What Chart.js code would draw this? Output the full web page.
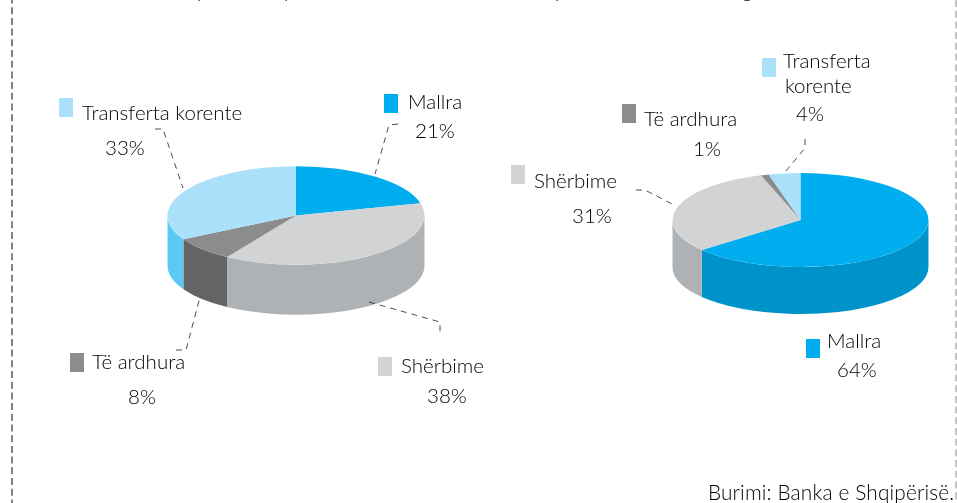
<!DOCTYPE html>
<html>
<head>
<meta charset="utf-8">
<title>Pie charts</title>
<script src="https://cdn.jsdelivr.net/npm/chart.js@4"></script>
<style>
  html, body { margin: 0; padding: 0; background: #fff; overflow: hidden; }
  canvas { position: absolute; left: 0; top: 0; }
</style>
</head>
<body>
<canvas id="pieLeft" width="957" height="503"></canvas>
<canvas id="pieRight" width="957" height="503"></canvas>
<script>
const categories = ["Mallra", "Shërbime", "Të ardhura", "Transferta korente"];
const valuesLeft = [21, 38, 8, 33];
const valuesRight = [64, 31, 1, 4];
const topColors = ["#00aeef", "#d1d3d4", "#8a8c8e", "#abe0fb"];
const sideColors = ["#0093c9", "#afb2b4", "#636466", "#5bc8f5"];
const sourceText = "Burimi: Banka e Shqipërisë.";

const FONT = '300 20.5px Lato, "Open Sans", sans-serif';
const SOURCE_FONT = '300 20.8px Lato, "Open Sans", sans-serif';
const INK = "#000";

// position des libellés : [carré x, y], [lignes du nom], x et ligne de base du pourcentage
const labelsLeft = [
  { sq: [384, 94], name: [["Mallra", 408, 109]], pct: [415, 138] },
  { sq: [378, 357], name: [["Shërbime", 401, 373]], pct: [427, 403] },
  { sq: [70, 353], name: [["Të ardhura", 92, 369]], pct: [128, 404] },
  { sq: [59, 98], name: [["Transferta korente", 82, 120]], pct: [105, 155] },
];
const labelsRight = [
  { sq: [806, 339], name: [["Mallra", 827, 348]], pct: [837, 377] },
  { sq: [511, 165], name: [["Shërbime", 534, 188]], pct: [572, 223] },
  { sq: [622, 104], name: [["Të ardhura", 644, 126]], pct: [693, 156] },
  { sq: [762, 58], name: [["Transferta", 783, 68], ["korente", 785, 93]], pct: [796, 121] },
];
const leadersLeft = [
  [[398, 124], [389, 125], [375, 174]],
  [[369, 302], [440, 322], [440, 335]],
  [[176, 350], [186, 350], [200, 297]],
  [[155, 129], [163, 129], [183, 188]],
];
const leadersRight = [
  [[805, 139], [805, 148], [786, 171]],
  [[636, 190], [645, 190], [676, 206]],
];
// jambages du titre coupé en haut de l'image
const cutTitle = [["p", 197], ["p", 284], ["p", 555], ["g", 742]];

// Plugin : écrase le camembert en ellipse et dessine la tranche du cylindre
const pie3d = {
  id: "pie3d",
  beforeDatasetsDraw(chart, args, opts) {
    const ctx = chart.ctx;
    const arcs = chart.getDatasetMeta(0).data;
    arcs.forEach((arc, i) => {
      const { x, y, startAngle, endAngle, outerRadius } = arc.getProps(["x", "y", "startAngle", "endAngle", "outerRadius"]);
      const ry = outerRadius * opts.squash;
      // seule la moitié basse de la tranche est visible
      [0, Math.PI * 2].forEach((turn) => {
        const a0 = Math.max(startAngle, turn);
        const a1 = Math.min(endAngle, turn + Math.PI);
        if (a1 <= a0) return;
        ctx.beginPath();
        ctx.ellipse(x, y, outerRadius, ry, 0, a0, a1);
        ctx.ellipse(x, y + opts.depth, outerRadius, ry, 0, a1, a0, true);
        ctx.closePath();
        ctx.fillStyle = sideColors[i];
        ctx.fill();
      });
    });
    const { x, y } = arcs[0].getProps(["x", "y"]);
    ctx.save();
    ctx.translate(x, y);
    ctx.scale(1, opts.squash);
    ctx.translate(-x, -y);
  },
  afterDatasetsDraw(chart) {
    chart.ctx.restore();
  },
  afterDraw(chart, args, opts) {
    const ctx = chart.ctx;
    ctx.save();
    ctx.font = FONT;
    ctx.textBaseline = "alphabetic";
    ctx.textAlign = "left";
    opts.labels.forEach((label, i) => {
      ctx.fillStyle = topColors[i];
      ctx.fillRect(label.sq[0], label.sq[1], 14, 19);
      ctx.fillStyle = INK;
      label.name.forEach(([text, x, y]) => ctx.fillText(text, x, y));
      ctx.fillText(chart.data.datasets[0].data[i] + "%", label.pct[0], label.pct[1]);
    });
    ctx.strokeStyle = "#231f20";
    ctx.lineWidth = 0.8;
    ctx.setLineDash([6, 5]);
    opts.leaders.forEach((pts) => {
      ctx.beginPath();
      pts.forEach(([x, y], k) => (k ? ctx.lineTo(x, y) : ctx.moveTo(x, y)));
      ctx.stroke();
    });
    if (opts.frame) {
      // cadre pointillé, source et bas du titre
      ctx.strokeStyle = "#808285";
      ctx.lineWidth = 2;
      ctx.setLineDash([7, 3.7]);
      ctx.lineDashOffset = 3.5;
      ctx.beginPath();
      ctx.moveTo(12, 0);
      ctx.lineTo(12, 503);
      ctx.stroke();
      ctx.strokeStyle = "#c4c6c8";
      ctx.lineDashOffset = 0;
      ctx.beginPath();
      ctx.moveTo(956, 0);
      ctx.lineTo(956, 503);
      ctx.stroke();
      ctx.fillStyle = INK;
      cutTitle.forEach(([text, x]) => ctx.fillText(text, x, -2));
      ctx.font = SOURCE_FONT;
      ctx.letterSpacing = "0.15px";
      ctx.fillText(sourceText, 708, 500);
    }
    ctx.restore();
  },
};

function makePie(canvasId, values, box, squash, depth, labels, leaders, frame) {
  // le padding place le cercle (cx, cy, r) dans la page
  const [cx, cy, r] = box;
  return new Chart(document.getElementById(canvasId), {
    type: "pie",
    data: {
      labels: categories,
      datasets: [{ data: values, backgroundColor: topColors, borderWidth: 0, clip: false }],
    },
    options: {
      responsive: false,
      animation: false,
      events: [],
      layout: {
        padding: { left: cx - r, right: 957 - cx - r, top: cy - r, bottom: 503 - cy - r },
      },
      plugins: {
        legend: { display: false },
        tooltip: { enabled: false },
        pie3d: { squash, depth, labels, leaders, frame },
      },
    },
    plugins: [pie3d],
  });
}

makePie("pieLeft", valuesLeft, [296, 215.5, 128.5], 0.383, 50, labelsLeft, leadersLeft, true);
makePie("pieRight", valuesRight, [800.5, 220, 128], 0.367, 47, labelsRight, leadersRight, false);
</script>
</body>
</html>
